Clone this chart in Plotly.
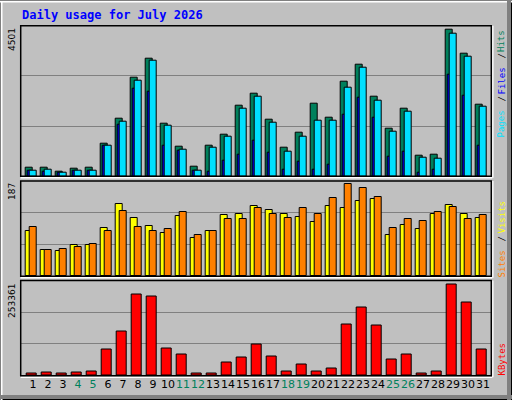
import plotly.graph_objects as go

days = list(range(1, 32))
hits = [276,276,141,245,276,1010,1776,3031,3613,1623,919,306,949,1286,2174,2541,1745,888,1347,2235,1807,2909,3429,2450,1470,2082,643,674,4501,3766,2205]
pages = [184,214,122,184,184,949,1684,2940,3552,1562,827,184,888,1225,2082,2437,1653,766,1225,1715,1715,2725,3338,2327,1378,1990,582,551,4379,3674,2143]
files = [162,132,101,162,162,928,1592,2695,2603,949,796,162,153,490,674,1102,735,214,459,214,367,1898,2419,1807,612,766,122,214,3123,2480,949]
visits = [91,53,51,63,63,98,146,118,102,87,122,77,91,124,126,142,134,126,120,110,142,138,152,157,83,104,96,126,144,126,118]
sites = [100,53,55,59,65,91,132,100,91,96,130,83,91,116,116,138,126,118,138,126,159,187,179,161,98,116,112,130,140,116,124]
kbytes = [7460,10220,7460,10220,12990,73770,123500,225700,220200,76540,59960,7460,7460,37850,51670,87590,54430,12990,32330,12990,21280,142850,189820,140090,46140,59960,7460,12990,253361,203630,73770]
weekend_days = [4,5,11,12,18,19,25,26]
title = "Daily usage for July 2026"

H_C, F_C, P_C = "#00805c", "#0000ff", "#00e0ff"
V_C, S_C, K_C = "#ffff00", "#ff8000", "#ff0000"
ln = dict(color="black", width=1)

fig = go.Figure()
fig.add_bar(x=days, y=hits, offset=-0.51, width=0.49, marker=dict(color=H_C, line=ln), xaxis="x", yaxis="y")
fig.add_bar(x=days, y=files, offset=-0.36, width=0.3, marker=dict(color=F_C, line=ln), xaxis="x", yaxis="y")
fig.add_bar(x=days, y=pages, offset=-0.25, width=0.5, marker=dict(color=P_C, line=ln), xaxis="x", yaxis="y")
fig.add_bar(x=days, y=visits, offset=-0.51, width=0.49, marker=dict(color=V_C, line=ln), xaxis="x2", yaxis="y2")
fig.add_bar(x=days, y=sites, offset=-0.25, width=0.5, marker=dict(color=S_C, line=ln), xaxis="x2", yaxis="y2")
fig.add_bar(x=days, y=kbytes, offset=-0.45, width=0.67, marker=dict(color=K_C, line=ln), xaxis="x3", yaxis="y3")

xd = [20.7/512, 491.3/512]
def py(p): return 1 - p/400
doms = [(py(176.3), py(25.7)), (py(276.3), py(181)), (py(375.7), py(280.5))]
tops = [4611, 193, 263600]

ticktext = [f"<span style='color:{H_C if d in weekend_days else 'black'}'>{d}</span>" for d in days]
xr = [0.18, 31.55]
for i in range(3):
    sfx = "" if i == 0 else str(i+1)
    fig.layout["xaxis"+sfx] = dict(domain=xd, range=xr, anchor="y"+sfx, showgrid=False, zeroline=False,
        tickvals=days if i == 2 else [], ticktext=ticktext if i == 2 else None, tickangle=0,
        showticklabels=(i == 2), ticks="", automargin=False,
        tickfont=dict(family="DejaVu Sans", size=11, color="black"))
    fig.layout["yaxis"+sfx] = dict(domain=list(doms[i]), range=[0, tops[i]], anchor="x"+sfx,
        tickvals=[tops[i]/3, 2*tops[i]/3], showticklabels=False, gridcolor="#808080", gridwidth=1,
        zeroline=False, ticks="", automargin=False)

shapes = []
shapes.append(dict(type="rect", xref="paper", yref="paper", x0=0, x1=1, y0=0, y1=1, line=dict(color="black", width=2)))
shapes.append(dict(type="line", xref="paper", yref="paper", x0=1.5/512, x1=1.5/512, y0=0, y1=1-1.5/400, line=dict(color="white", width=2)))
shapes.append(dict(type="line", xref="paper", yref="paper", x0=0, x1=1, y0=1-1.5/400, y1=1-1.5/400, line=dict(color="white", width=2)))
shapes.append(dict(type="line", xref="paper", yref="paper", x0=0, x1=1, y0=3/400, y1=3/400, line=dict(color="#808080", width=4)))
shapes.append(dict(type="line", xref="paper", yref="paper", x0=1-3/512, x1=1-3/512, y0=0, y1=1, line=dict(color="#808080", width=4)))
for (y0, y1) in doms:
    shapes.append(dict(type="line", xref="paper", yref="paper", x0=xd[0], x1=xd[1]+1/512, y0=y0-1.5/400, y1=y0-1.5/400, line=dict(color="white", width=1.5)))
    shapes.append(dict(type="line", xref="paper", yref="paper", x0=xd[1]+1.5/512, x1=xd[1]+1.5/512, y0=y0-1.5/400, y1=y1, line=dict(color="white", width=1.5)))
    shapes.append(dict(type="rect", xref="paper", yref="paper", x0=xd[0], x1=xd[1], y0=y0, y1=y1, line=dict(color="black", width=1.5)))
fig.update_layout(shapes=shapes)

mono = "DejaVu Sans Mono"
ann = [dict(text=f"<b>{title}</b>", x=20/512, y=py(15), xref="paper", yref="paper", xanchor="left", yanchor="middle",
            showarrow=False, font=dict(family=mono, size=12, color="#0000ff"))]
for (txt, ptop) in [("4501", 26.5), ("187", 181.5), ("253361", 282)]:
    ann.append(dict(text=txt, x=12/512, y=py(ptop), xref="paper", yref="paper", xanchor="center", yanchor="top",
                    textangle=-90, showarrow=False, font=dict(family="DejaVu Sans", size=9, color="black")))
# right-side legends: (text, color, top pixel)
right = [("Hits", H_C, 28), ("/", "black", 52), ("Files", F_C, 66), ("/", "black", 95), ("Pages", P_C, 109),
         ("Visits", V_C, 199), ("/", "black", 235), ("Sites", S_C, 249),
         ("KBytes", K_C, 341)]
for txt, col, ptop in right:
    ann.append(dict(text=txt, x=501/512, y=py(ptop), xref="paper", yref="paper", xanchor="center", yanchor="top",
                    textangle=-90, showarrow=False, font=dict(family=mono, size=9, color=col)))
fig.update_layout(annotations=ann)

fig.update_layout(width=512, height=400, margin=dict(l=0, r=0, t=0, b=0, autoexpand=False), paper_bgcolor="#c0c0c0",
                  plot_bgcolor="#c0c0c0", barmode="overlay", showlegend=False, bargap=0)
fig.write_html("out.html", config={"displayModeBar": False},
               post_script="document.body.style.margin='0px';document.body.style.overflow='hidden';")
